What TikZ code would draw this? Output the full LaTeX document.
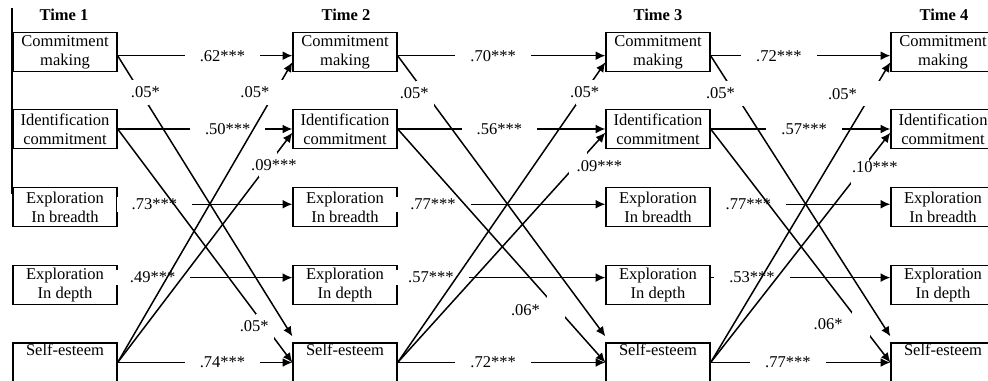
\documentclass[tikz,border=0pt]{standalone}
\usepackage{fontspec}
\setmainfont{Liberation Serif}
\usetikzlibrary{arrows.meta}

\begin{document}
\begin{tikzpicture}[x=0.02cm, y=-0.02cm, font=\fontsize{9.4}{10.8}\selectfont,
        var/.style={draw, line width=0.75pt, minimum width=2.08cm, minimum height=0.78cm, inner sep=0pt, align=center},
        timelabel/.style={font=\fontsize{9.4}{10.8}\selectfont\bfseries},
        link/.style={-{Latex[length=5.5pt, width=5pt]}, line width=0.85pt},
        hcoef/.style={fill=white, inner xsep=0.3cm, inner ysep=1pt},
        dgap/.style={fill=white, inner sep=0pt, minimum width=0.36cm, minimum height=0.5cm}]
    \useasboundingbox (0,0) rectangle (988,380);
    \clip (0,0) rectangle (988,380);

    % frame edge on the left
    \draw[line width=0.75pt] (12,8) -- (12,194);

    % waves
    \node[timelabel] (t1) at (64,15) {Time 1};
    \node[timelabel] (t2) at (346,15) {Time 2};
    \node[timelabel] (t3) at (658,15) {Time 3};
    \node[timelabel] (t4) at (944,15) {Time 4};

    % Time 1
    \node[var] (cm1) at (65,52) {Commitment\\making};
    \node[var] (ic1) at (65,129) {Identification\\commitment};
    \node[var] (eb1) at (65,207) {Exploration\\In breadth};
    \node[var] (ed1) at (65,285) {Exploration\\In depth};
    \node[var] (se1) at (65,362.5) {Self-esteem\\\strut};
    % Time 2
    \node[var] (cm2) at (345,52) {Commitment\\making};
    \node[var] (ic2) at (345,129) {Identification\\commitment};
    \node[var] (eb2) at (345,207) {Exploration\\In breadth};
    \node[var] (ed2) at (345,285) {Exploration\\In depth};
    \node[var] (se2) at (345,362.5) {Self-esteem\\\strut};
    % Time 3
    \node[var] (cm3) at (658,52) {Commitment\\making};
    \node[var] (ic3) at (658,129) {Identification\\commitment};
    \node[var] (eb3) at (658,207) {Exploration\\In breadth};
    \node[var] (ed3) at (658,285) {Exploration\\In depth};
    \node[var] (se3) at (658,362.5) {Self-esteem\\\strut};
    % Time 4
    \node[var] (cm4) at (943,52) {Commitment\\making};
    \node[var] (ic4) at (943,129) {Identification\\commitment};
    \node[var] (eb4) at (943,207) {Exploration\\In breadth};
    \node[var] (ed4) at (943,285) {Exploration\\In depth};
    \node[var] (se4) at (943,362.5) {Self-esteem\\\strut};

    % stability paths
    \draw[link] (cm1.-4) -- node[hcoef, pos=0.6] {.62***} (cm2.184);
    \draw[link] (ic1.east) -- node[hcoef, pos=0.63] {.50***} (ic2.west);
    \draw[link] (eb1.3) -- node[hcoef, pos=0.21] {.73***} (eb2.177);
    \draw[link] (ed1.8) -- node[hcoef, pos=0.2] {.49***} (ed2.172);
    \draw[link] (se1.east) -- node[hcoef, pos=0.6] {.74***} (se2.west);

    \draw[link] (cm2.-4) -- node[hcoef, pos=0.46] {.70***} (cm3.184);
    \draw[link] (ic2.east) -- node[hcoef, pos=0.49] {.56***} (ic3.west);
    \draw[link] (eb2.3) -- node[hcoef, pos=0.17] {.77***} (eb3.177);
    \draw[link] (ed2.8) -- node[hcoef, pos=0.16] {.57***} (ed3.172);
    \draw[link] (se2.east) -- node[hcoef, pos=0.46] {.72***} (se3.west);

    \draw[link] (cm3.-4) -- node[hcoef, pos=0.38] {.72***} (cm4.184);
    \draw[link] (ic3.east) -- node[hcoef, pos=0.52] {.57***} (ic4.west);
    \draw[link] (eb3.3) -- node[hcoef, pos=0.21] {.77***} (eb4.177);
    \draw[link] (ed3.8) -- node[hcoef, pos=0.23] {.53***} (ed4.172);
    \draw[link] (se3.east) -- node[hcoef, pos=0.43] {.77***} (se4.west);

    % cross-lagged paths
    \draw[link] (cm1.-4) -- node[dgap, pos=0.13] {} node[pos=0.13, xshift=0.1cm] {.05*} ([yshift=0.12cm]se2.north west);
    \draw[link] (ic1.east) -- node[dgap, pos=0.845] {} node[pos=0.845, xshift=-0.22cm] {.05*} (se2.west);
    \draw[link] (se1.east) -- node[dgap, pos=0.9] {} node[pos=0.9, xshift=-0.4cm] {.05*} (cm2.191);
    \draw[link] (se1.east) -- node[dgap, pos=0.86] {} node[pos=0.86, xshift=0.12cm] {.09***} (ic2.184);

    \draw[link] (cm2.-4) -- node[dgap, pos=0.133] {} node[pos=0.133, xshift=-0.22cm] {.05*} ([yshift=0.12cm]se3.north west);
    \draw[link] (ic2.east) -- node[dgap, pos=0.76] {} node[pos=0.76, xshift=-0.6cm, yshift=-0.08cm] {.06*} (se3.west);
    \draw[link] (se2.east) -- node[dgap, pos=0.9] {} node[pos=0.9] {.05*} (cm3.191);
    \draw[link] (se2.east) -- node[dgap, pos=0.87] {} node[pos=0.87, xshift=0.42cm, yshift=-0.08cm] {.09***} (ic3.184);

    \draw[link] (cm3.-4) -- node[dgap, pos=0.133] {} node[pos=0.133, xshift=-0.28cm] {.05*} ([yshift=0.12cm]se4.north west);
    \draw[link] (ic3.east) -- node[dgap, pos=0.837] {} node[pos=0.837, xshift=-0.66cm] {.06*} (se4.west);
    \draw[link] (se3.east) -- node[dgap, pos=0.895] {} node[pos=0.895, xshift=-0.58cm] {.05*} (cm4.191);
    \draw[link] (se3.east) -- node[dgap, pos=0.83] {} node[pos=0.83, xshift=0.3cm, yshift=0.1cm] {.10***} (ic4.184);
\end{tikzpicture}
\end{document}
